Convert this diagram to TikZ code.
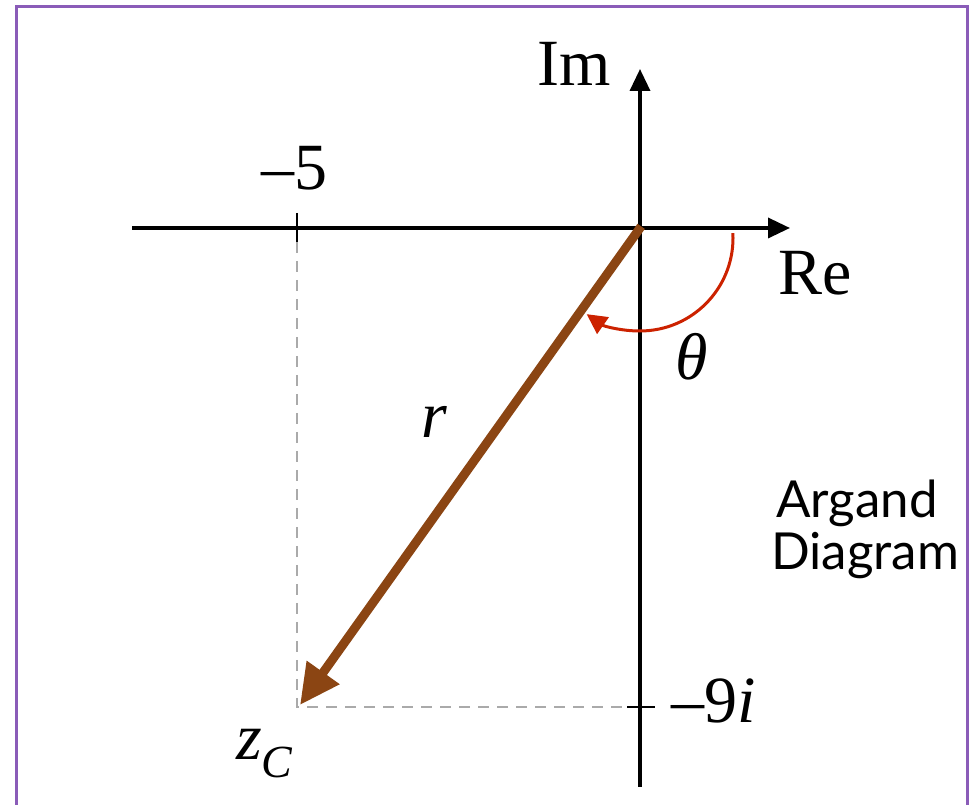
\documentclass[tikz,border=0pt]{standalone}
\usepackage{fontspec}
\setmainfont{Liberation Serif}[ItalicFont={Liberation Serif Italic}, BoldFont={Liberation Serif Bold}]
\newfontfamily\serifit{Liberation Serif Italic}
\newfontfamily\labelsans{Lato}
\usetikzlibrary{arrows.meta,calc}
\definecolor{framepurple}{HTML}{8A5CB8}
\definecolor{vecbrown}{HTML}{8B4513}
\definecolor{arcred}{HTML}{CC2200}
\definecolor{dashgray}{HTML}{AAAAAA}
\tikzset{
  axisline/.style={line width=3.5pt, black},
  tickline/.style={line width=2.5pt, black},
  guide/.style={line width=2pt, dashgray, dash pattern=on 11pt off 8pt},
  vecline/.style={line width=9pt, vecbrown, -{Triangle[length=40pt,width=38pt]}},
  anglearc/.style={line width=3pt, arcred, -{Triangle[length=20pt,width=20pt]}},
  bigtext/.style={inner sep=0pt, font=\fontsize{66}{70}\selectfont},
  sidetext/.style={inner sep=0pt, font=\labelsans\fontsize{51}{56}\selectfont}
}
\begin{document}
\begin{tikzpicture}[x=1pt,y=1pt]
\useasboundingbox (0,0) rectangle (972,805);
% frame
\draw[framepurple, line width=3pt] (16,-10) -- (16,798) -- (967,798) -- (967,-10);
% named points
\coordinate (O) at (640,577);
\coordinate (reL) at (132,577);
\coordinate (reR) at (790,577);
\coordinate (imB) at (640,18);
\coordinate (imT) at (640,736);
\coordinate (t5a) at (297,592);
\coordinate (t5b) at (297,563);
\coordinate (t9a) at (627,98);
\coordinate (t9b) at (655,98);
\coordinate (Z) at (297,98);
\coordinate (Ztip) at (300,100);
\coordinate (arcC) at (640,567);
% guides
\draw[guide] (t5b) -- (Z) -- (t9a);
% axes
\draw[axisline, -{Triangle[length=22pt,width=20pt]}] (reL) -- (reR);
\draw[axisline, -{Triangle[length=22pt,width=20pt]}] (imB) -- (imT);
\draw[tickline] (t5a) -- (t5b);
\draw[tickline] (t9a) -- (t9b);
% vector
\draw[vecline, shorten <=-2pt] (O) -- (Ztip);
% angle arc
\draw[anglearc] (arcC) ++(3:93) arc[start angle=3, end angle=-125, radius=93];
% labels
\node[bigtext, anchor=base] (im) at (574,719) {Im};
\node[bigtext, anchor=base] (re) at (815,510) {Re};
\node[bigtext, anchor=base] (m5) at (294,615) {–5};
\node[bigtext, anchor=base] (m9) at (714,82) {–9{\serifit i}};
\node[bigtext, anchor=base] (rr) at (434,367) {\serifit r};
\node[bigtext] (th) at (692,448) {\serifit θ};
\node[bigtext, anchor=base west] (zc) at (236,45) {{\serifit z}\raisebox{-0.27em}{\fontsize{46}{46}\selectfont\serifit C}};
\node[sidetext, anchor=base] (arg) at (857,287) {Argand};
\node[sidetext, anchor=base] (dia) at (865,235) {Diagram};
\end{tikzpicture}
\end{document}
